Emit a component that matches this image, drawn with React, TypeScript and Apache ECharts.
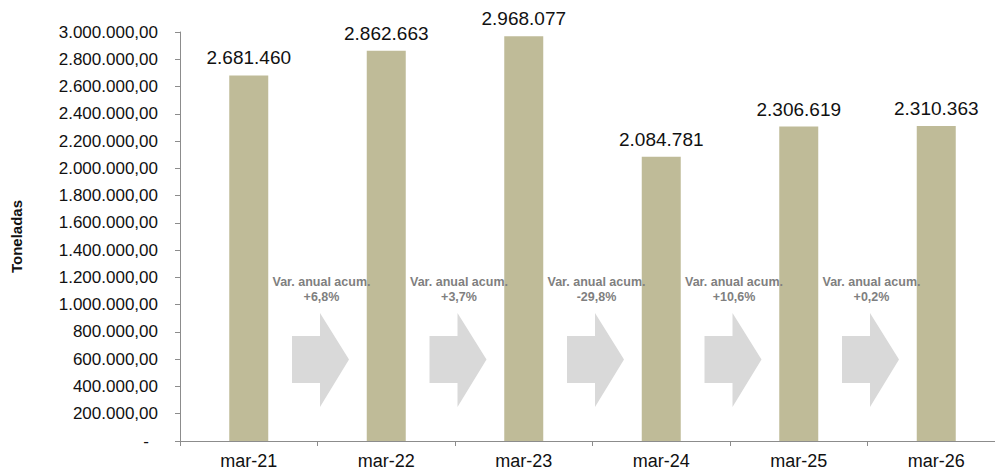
import React, { useEffect, useRef } from "react";
import * as echarts from "echarts";

const categories = ["mar-21", "mar-22", "mar-23", "mar-24", "mar-25", "mar-26"];
const tonnes = [2681460, 2862663, 2968077, 2084781, 2306619, 2310363];
const yearlyChange = ["+6,8%", "+3,7%", "-29,8%", "+10,6%", "+0,2%"];
const arrowSlots = [0, 1, 2, 3, 4];

function groupThousands(n: number): string {
  return String(Math.round(n)).replace(/\B(?=(\d{3})+(?!\d))/g, ".");
}

export default function App() {
  const ref = useRef<HTMLDivElement>(null);

  useEffect(() => {
    if (!ref.current) return;
    const chart = echarts.init(ref.current, undefined, { renderer: "svg" });
    const font = "Liberation Sans, Arial, sans-serif";
    chart.setOption({
      animation: false,
      backgroundColor: "#ffffff",
      textStyle: { fontFamily: font },
      grid: {
        left: 180,
        right: -10,
        top: 32,
        bottom: 31,
        containLabel: false,
        outerBoundsMode: "none",
      },
      xAxis: {
        type: "category",
        data: categories,
        axisLine: { show: true, lineStyle: { color: "#8c8c8c", width: 1 } },
        axisTick: { show: true, length: 5, alignWithLabel: false, lineStyle: { color: "#8c8c8c" } },
        axisLabel: { fontSize: 18, color: "#111111", margin: 11, fontFamily: font },
        splitLine: { show: false },
      },
      yAxis: {
        type: "value",
        min: 0,
        max: 3000000,
        interval: 200000,
        name: "Toneladas",
        nameLocation: "middle",
        nameRotate: 90,
        nameGap: 156,
        nameTextStyle: { fontSize: 15, fontWeight: "bold", color: "#111111", fontFamily: font },
        axisLine: { show: true, lineStyle: { color: "#8c8c8c", width: 1 } },
        axisTick: { show: true, length: 5, lineStyle: { color: "#8c8c8c" } },
        splitLine: { show: false },
        axisLabel: {
          fontSize: 17,
          color: "#111111",
          margin: 22,
          fontFamily: font,
          formatter: (v: number) => (v === 0 ? "{d|-}" : groupThousands(v) + ",00"),
          rich: { d: { fontSize: 17, color: "#111111", padding: [0, 9, 0, 0] } },
        },
      },
      series: [
        {
          type: "bar",
          data: tonnes,
          barWidth: 39,
          itemStyle: { color: "#bfbb98" },
          label: {
            show: true,
            position: "top",
            distance: 8,
            fontSize: 19,
            color: "#111111",
            fontFamily: font,
            formatter: (p: any) => groupThousands(p.value),
          },
          z: 2,
        },
        {
          type: "custom",
          data: arrowSlots.map((i) => [i, 0]),
          encode: { x: 0, y: 1 },
          silent: true,
          z: 3,
          renderItem: (params: any, api: any) => {
            const i = api.value(0);
            const p = api.coord([i, 0]);
            const band = api.size([1, 0])[0];
            const cx = p[0] + band / 2;
            const base = p[1];
            const ax = cx + 3;
            const pts = [
              [ax - 28.5, base - 105],
              [ax - 0.5, base - 105],
              [ax - 0.5, base - 128],
              [ax + 28.5, base - 81.5],
              [ax - 0.5, base - 34],
              [ax - 0.5, base - 58],
              [ax - 28.5, base - 58],
            ];
            const tx = cx + 4;
            return {
              type: "group",
              children: [
                { type: "polygon", shape: { points: pts }, style: { fill: "#d9d9d9" } },
                {
                  type: "text",
                  x: tx,
                  y: base - 159,
                  style: {
                    text: "Var. anual acum.",
                    fill: "#7f7f7f",
                    font: "bold 12.5px " + font,
                    align: "center",
                    verticalAlign: "middle",
                  },
                },
                {
                  type: "text",
                  x: tx,
                  y: base - 144,
                  style: {
                    text: yearlyChange[params.dataIndex],
                    fill: "#7f7f7f",
                    font: "bold 12.5px " + font,
                    align: "center",
                    verticalAlign: "middle",
                  },
                },
              ],
            };
          },
        },
      ],
    });
    return () => chart.dispose();
  }, []);

  return (
    <div
      ref={ref}
      style={{ position: "fixed", left: 0, top: 0, width: 995, height: 472, background: "#fff" }}
    />
  );
}
